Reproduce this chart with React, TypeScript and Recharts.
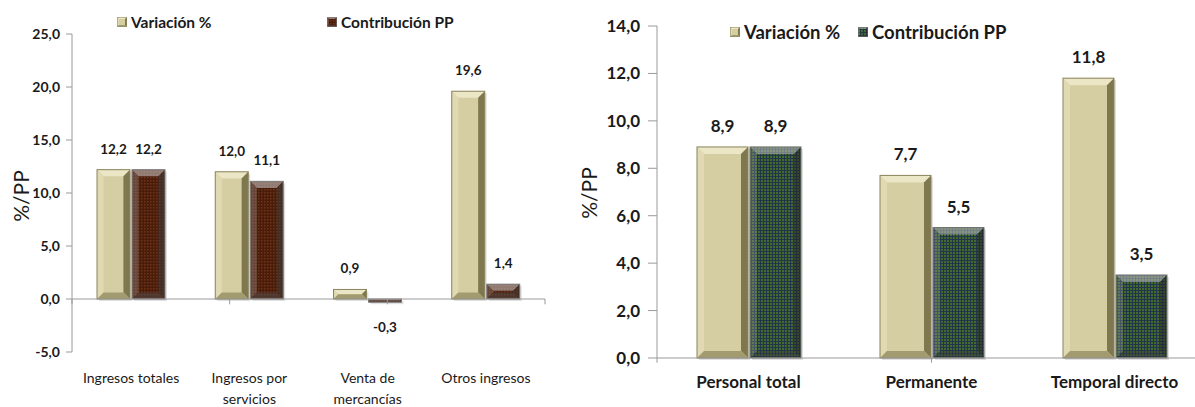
import React from "react";
import {
  BarChart,
  Bar,
  XAxis,
  YAxis,
  LabelList,
  ReferenceLine,
  Legend,
  Text,
} from "recharts";

// ---------- data ----------
const leftCategories = ["Ingresos totales", "Ingresos por servicios", "Venta de mercancías", "Otros ingresos"];
const leftVariacion = [12.2, 12.0, 0.9, 19.6];
const leftContribucion = [12.2, 11.1, -0.3, 1.4];
const leftTicks = [-5, 0, 5, 10, 15, 20, 25];

const rightCategories = ["Personal total", "Permanente", "Temporal directo"];
const rightVariacion = [8.9, 7.7, 11.8];
const rightContribucion = [8.9, 5.5, 3.5];
const rightTicks = [0, 2, 4, 6, 8, 10, 12, 14];

const seriesNames = ["Variación %", "Contribución PP"];
const yLabel = "%/PP";

const leftData = leftCategories.map((c, i) => ({ cat: c, v: leftVariacion[i], c: leftContribucion[i] }));
const rightData = rightCategories.map((c, i) => ({ cat: c, v: rightVariacion[i], c: rightContribucion[i] }));

const FONT = "Lato, 'Noto Sans', sans-serif";
const fmt = (v: number) => v.toFixed(1).replace(".", ",");

// ---------- bar shapes ----------
type Palette = { fill: string; top: string; left: string; right: string; bottom: string; stroke: string };
const beige: Palette = {
  fill: "#d5cea2",
  top: "#ebe6c6",
  left: "#e0d9b2",
  right: "#7f784f",
  bottom: "#a39b70",
  stroke: "#8a835c",
};
const brown: Palette = {
  fill: "url(#brownDots)",
  top: "rgba(200,200,200,0.55)",
  left: "rgba(170,170,170,0.3)",
  right: "rgba(60,60,60,0.55)",
  bottom: "rgba(80,80,80,0.5)",
  stroke: "#7d7d7d",
};
const green: Palette = {
  fill: "url(#greenDots)",
  top: "rgba(190,190,190,0.55)",
  left: "rgba(160,160,160,0.3)",
  right: "rgba(40,40,40,0.5)",
  bottom: "rgba(60,60,60,0.45)",
  stroke: "#6f6f6f",
};

const makeShape = (p: Palette) => (props: any) => {
  const { x, y, width, height } = props;
  if (width == null || height == null) return null;
  const x0 = x;
  const y0 = Math.min(y, y + height);
  const w = width;
  const h = Math.abs(height);
  const b = Math.max(1, Math.min(7, w / 5, h / 2));
  return (
    <g>
      <rect x={x0 + 2} y={y0 + 2} width={w} height={h} fill="rgba(0,0,0,0.12)" />
      <rect x={x0} y={y0} width={w} height={h} fill={p.fill} />
      <polygon points={`${x0},${y0} ${x0 + w},${y0} ${x0 + w - b},${y0 + b} ${x0 + b},${y0 + b}`} fill={p.top} />
      <polygon points={`${x0},${y0} ${x0 + b},${y0 + b} ${x0 + b},${y0 + h - b} ${x0},${y0 + h}`} fill={p.left} />
      <polygon points={`${x0 + w},${y0} ${x0 + w},${y0 + h} ${x0 + w - b},${y0 + h - b} ${x0 + w - b},${y0 + b}`} fill={p.right} />
      <polygon points={`${x0},${y0 + h} ${x0 + w},${y0 + h} ${x0 + w - b},${y0 + h - b} ${x0 + b},${y0 + h - b}`} fill={p.bottom} />
      <rect x={x0} y={y0} width={w} height={h} fill="none" stroke={p.stroke} strokeWidth={1} />
    </g>
  );
};

const makeLabel = (fontSize: number, above: number, below: number) => (props: any) => {
  const { x, y, width, height, value } = props;
  const top = Math.min(y, y + height);
  const bottom = Math.max(y, y + height);
  const cx = x + width / 2;
  const ty = value >= 0 ? top - above : bottom + below;
  return (
    <text x={cx} y={ty} textAnchor="middle" fontSize={fontSize} fontWeight={700} fontFamily={FONT} fill="#1a1a1a">
      {fmt(value)}
    </text>
  );
};

const Defs = () => (
  <defs>
    <pattern id="brownDots" width="3" height="3" patternUnits="userSpaceOnUse">
      <rect width="3" height="3" fill="#4a1d0b" />
      <rect width="1.5" height="1.5" fill="#6e3319" />
    </pattern>
    <pattern id="greenDots" width="3" height="3" patternUnits="userSpaceOnUse">
      <rect width="3" height="3" fill="#223549" />
      <rect width="2" height="2" fill="#416a30" />
    </pattern>
  </defs>
);

const makeLegend = (positions: number[], palettes: Palette[], fontSize: number) => () => (
  <div style={{ position: "relative", height: 24 }}>
    {seriesNames.map((n, i) => (
      <div
        key={n}
        style={{
          position: "absolute",
          left: positions[i],
          top: 0,
          display: "flex",
          alignItems: "center",
          gap: 4,
          fontFamily: FONT,
          fontWeight: 700,
          fontSize,
          color: "#1a1a1a",
          whiteSpace: "nowrap",
        }}
      >
        <svg width={10} height={10} style={{ display: "block" }}>
          <Defs />
          {makeShape(palettes[i])({ x: 0, y: 0, width: 10, height: 10 })}
        </svg>
        <span>{n}</span>
      </div>
    ))}
  </div>
);

const LeftTick = (props: any) => {
  const { x, y, payload } = props;
  return (
    <Text
      x={x}
      y={y + 21}
      width={105}
      textAnchor="middle"
      verticalAnchor="start"
      lineHeight={21}
      fontSize={14}
      fontFamily={FONT}
      fill="#1a1a1a"
    >
      {payload.value}
    </Text>
  );
};

const RightTick = (props: any) => {
  const { x, y, payload } = props;
  return (
    <text x={x} y={y + 30} textAnchor="middle" fontSize={17} fontWeight={700} fontFamily={FONT} fill="#1a1a1a">
      {payload.value}
    </text>
  );
};

const axisGrey = "#9a9a9a";

const YTitle = ({ left, top }: { left: number; top: number }) => (
  <div
    style={{
      position: "absolute",
      left,
      top,
      transform: "translate(-50%, -50%) rotate(-90deg)",
      fontFamily: FONT,
      fontSize: 21,
      color: "#1a1a1a",
      whiteSpace: "nowrap",
    }}
  >
    {yLabel}
  </div>
);

export default function App() {
  const leftBounds = Array.from({ length: leftCategories.length + 1 }, (_, i) => i);
  const rightBounds = Array.from({ length: rightCategories.length + 1 }, (_, i) => i);
  return (
    <div style={{ position: "absolute", left: 0, top: 0, width: 1195, height: 407, overflow: "hidden", background: "#fff" }}>
      <div style={{ position: "absolute", left: 0, top: 0 }}>
        <BarChart width={560} height={407} data={leftData} margin={{ top: 34, right: 15, bottom: 0, left: 22 }} barGap={2} barSize={33}>
          <Defs />
          <XAxis xAxisId="cat" dataKey="cat" axisLine={false} tickLine={false} tickSize={0} tickMargin={0} height={55} interval={0} tick={<LeftTick />} />
          <XAxis xAxisId="num" type="number" domain={[0, leftCategories.length]} hide allowDataOverflow />
          <YAxis
            domain={[-5, 25]}
            ticks={leftTicks}
            tickFormatter={fmt}
            width={50}
            axisLine={{ stroke: axisGrey }}
            tickLine={{ stroke: axisGrey }}
            tickSize={6}
            tickMargin={6}
            tick={{ fill: "#1a1a1a", fontSize: 14, fontWeight: 700, fontFamily: FONT }}
            allowDataOverflow
          />
          <ReferenceLine xAxisId="cat" y={0} stroke={axisGrey} strokeWidth={1} />
          {leftBounds.map((b) => (
            <ReferenceLine
              key={b}
              xAxisId="num"
              segment={[{ x: b, y: 0 }, { x: b, y: -0.5 }]}
              stroke={axisGrey}
              ifOverflow="visible"
            />
          ))}
          <Legend content={makeLegend([117, 327], [beige, brown], 15.5)} verticalAlign="middle" align="center" wrapperStyle={{ position: "absolute", top: 13, left: 0, width: 560 }} />
          <Bar xAxisId="cat" dataKey="v" name={seriesNames[0]} shape={makeShape(beige)} isAnimationActive={false}>
            <LabelList dataKey="v" content={makeLabel(13.5, 16, 30)} />
          </Bar>
          <Bar xAxisId="cat" dataKey="c" name={seriesNames[1]} shape={makeShape(brown)} isAnimationActive={false}>
            <LabelList dataKey="c" content={makeLabel(13.5, 16, 30)} />
          </Bar>
        </BarChart>
        <YTitle left={20} top={196} />
      </div>
      <div style={{ position: "absolute", left: 560, top: 0 }}>
        <BarChart width={660} height={407} data={rightData} margin={{ top: 26, right: 14, bottom: 0, left: 37 }} barGap={2} barSize={51}>
          <Defs />
          <XAxis xAxisId="cat" dataKey="cat" axisLine={{ stroke: axisGrey }} tickLine={false} tickSize={0} tickMargin={0} height={49} interval={0} tick={<RightTick />} />
          <XAxis xAxisId="num" type="number" domain={[0, rightCategories.length]} hide allowDataOverflow />
          <YAxis
            domain={[0, 14]}
            ticks={rightTicks}
            tickFormatter={fmt}
            width={60}
            axisLine={{ stroke: axisGrey }}
            tickLine={{ stroke: axisGrey }}
            tickSize={9}
            tickMargin={8}
            tick={{ fill: "#1a1a1a", fontSize: 17, fontWeight: 700, fontFamily: FONT }}
          />
          {rightBounds.map((b) => (
            <ReferenceLine
              key={b}
              xAxisId="num"
              segment={[{ x: b, y: 0 }, { x: b, y: -0.2 }]}
              stroke={axisGrey}
              ifOverflow="visible"
            />
          ))}
          <Legend content={makeLegend([170, 298], [beige, green], 18.5)} verticalAlign="middle" align="center" wrapperStyle={{ position: "absolute", top: 21, left: 0, width: 660 }} />
          <Bar xAxisId="cat" dataKey="v" name={seriesNames[0]} shape={makeShape(beige)} isAnimationActive={false}>
            <LabelList dataKey="v" content={makeLabel(17, 15, 30)} />
          </Bar>
          <Bar xAxisId="cat" dataKey="c" name={seriesNames[1]} shape={makeShape(green)} isAnimationActive={false}>
            <LabelList dataKey="c" content={makeLabel(17, 15, 30)} />
          </Bar>
        </BarChart>
        <YTitle left={28} top={193} />
      </div>
    </div>
  );
}
